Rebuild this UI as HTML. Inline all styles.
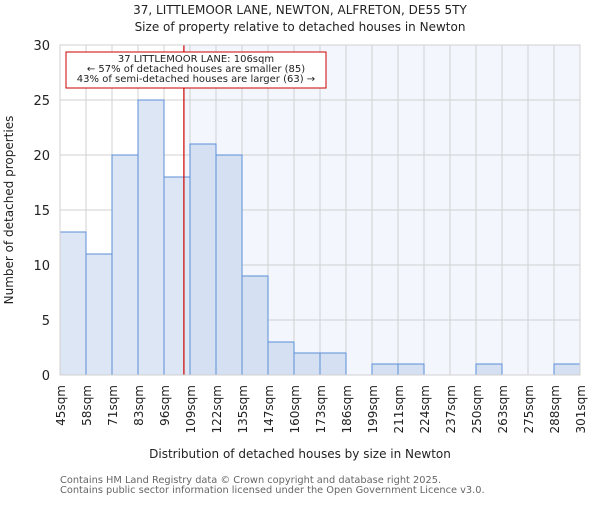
<!DOCTYPE html>
<html><head><meta charset="utf-8"><style>body{margin:0;background:#fff}svg{font-family:"DejaVu Sans","Liberation Sans",sans-serif}</style></head>
<body>
<svg id="c" width="600" height="500" xmlns="http://www.w3.org/2000/svg">
<text x="300" y="14" text-anchor="middle" font-size="12" fill="#222">37, LITTLEMOOR LANE, NEWTON, ALFRETON, DE55 5TY</text>
<text x="300" y="31" text-anchor="middle" font-size="12" fill="#222">Size of property relative to detached houses in Newton</text>
<g id="plot"></g>
<text x="300" y="458" text-anchor="middle" font-size="12" fill="#222">Distribution of detached houses by size in Newton</text>
<text transform="translate(13,210) rotate(-90)" text-anchor="middle" font-size="12" fill="#222">Number of detached properties</text>
<text x="60" y="483" font-size="9.8" fill="#666">Contains HM Land Registry data © Crown copyright and database right 2025.</text>
<text x="60" y="493" font-size="9.8" fill="#666">Contains public sector information licensed under the Open Government Licence v3.0.</text>
</svg>
<script>
const categories=["45sqm","58sqm","71sqm","83sqm","96sqm","109sqm","122sqm","135sqm","147sqm","160sqm","173sqm","186sqm","199sqm","211sqm","224sqm","237sqm","250sqm","263sqm","275sqm","288sqm","301sqm"];
const counts=[13,11,20,25,18,21,20,9,3,2,2,0,1,1,0,0,1,0,0,1];
const yTicks=[0,5,10,15,20,25,30];
const markerValue=106;
const binStart=45, binWidthSqm=12.8;
const L=60,R=580,T=45,B=375,yMax=30;
const NS="http://www.w3.org/2000/svg";
const g=document.getElementById('plot');
const bw=(R-L)/counts.length;
const xs=i=>L+i*bw;
const ys=v=>B-(v/yMax)*(B-T);
const xv=v=>L+(v-binStart)/binWidthSqm*bw;
function mk(t,a){const e=document.createElementNS(NS,t);for(const k in a)e.setAttribute(k,a[k]);g.appendChild(e);return e;}
const mx=xv(markerValue);
let e=mk('rect',{x:mx,y:T,width:R-mx,height:B-T,fill:'#f3f6fd'});


yTicks.forEach(v=>{const l=mk('line',{x1:L,x2:R,y1:ys(v),y2:ys(v),stroke:'#d0d0d0'});


const t=mk('text',{x:L-10,y:ys(v)+5,'text-anchor':'end','font-size':13,fill:'#222'});t.textContent=v;

});
categories.forEach((c,i)=>{const l=mk('line',{x1:xs(i),x2:xs(i),y1:T,y2:B,stroke:'#d0d0d0'});


const t=mk('text',{transform:`translate(${xs(i)+5},${B+10}) rotate(-90)`,'text-anchor':'end','font-size':12,fill:'#222'});t.textContent=c;

});
counts.forEach((v,i)=>{if(v<=0)return;const r=mk('rect',{x:xs(i),y:ys(v),width:bw,height:B-ys(v),fill:xs(i)>=mx?'#d5e1f3':'#dce6f4',stroke:'#5b8fd6','stroke-width':1});

});
e=mk('line',{x1:mx,x2:mx,y1:T,y2:B,stroke:'#cc0000','stroke-width':1.2});


e=mk('rect',{x:66,y:52,width:260,height:36,fill:'#fff',stroke:'#cc0000'});


["37 LITTLEMOOR LANE: 106sqm","← 57% of detached houses are smaller (85)","43% of semi-detached houses are larger (63) →"].forEach((s,k)=>{const t=mk('text',{x:196,y:62+k*10,'text-anchor':'middle','font-size':10,fill:'#222'});t.textContent=s;

});
e=mk('rect',{x:L,y:T,width:R-L,height:B-T,fill:'none',stroke:'#d0d0d0'});


</script>
</body></html>
